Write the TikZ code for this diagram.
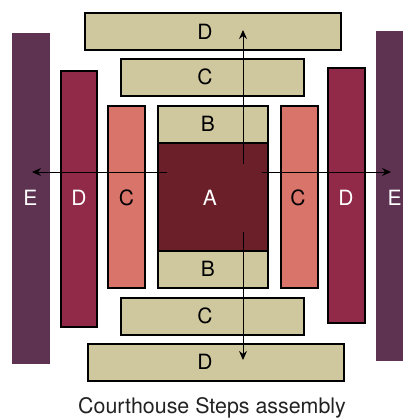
\documentclass[tikz,border=0pt]{standalone}
\usepackage{fontspec}
\setmainfont{TeX Gyre Heros}
\usetikzlibrary{arrows.meta}
\definecolor{tan}{RGB}{207,199,158}
\definecolor{colA}{RGB}{106,31,41}
\definecolor{colC}{RGB}{216,116,106}
\definecolor{colD}{RGB}{145,42,72}
\definecolor{colE}{RGB}{94,51,82}
\definecolor{captxt}{RGB}{34,34,34}
\tikzset{
  blk/.style={draw=black, line width=1.6pt},
  tanblk/.style={blk, fill=tan},
  ablk/.style={blk, fill=colA},
  cblk/.style={blk, fill=colC},
  dblk/.style={blk, fill=colD},
  eblk/.style={draw=colE, line width=1pt, fill=colE},
  arr/.style={line width=0.9pt, -{Stealth[length=9pt,width=8pt]}},
  lbl/.style={font=\fontsize{21}{21}\selectfont, inner sep=0pt, anchor=base},
  wlbl/.style={lbl, text=white},
}
\newcommand{\blkat}[6]{% style, name, x1, y1, x2, y2
  \path[#1] (#3,#4) rectangle (#5,#6);
  \coordinate (#2) at ({(#3+#5)/2},{(#4+#6)/2});
}
\begin{document}
\begin{tikzpicture}[x=1pt,y=-1pt]
\useasboundingbox (0,0) rectangle (403,418);
\clip (0,0) rectangle (403,418);
% vertical bars
\blkat{eblk}{lE}{12}{33}{49}{363}
\blkat{dblk}{lD}{61}{71}{97}{327}
\blkat{cblk}{lC}{108}{106}{145}{288}
\blkat{cblk}{rC}{281}{106}{318}{288}
\blkat{dblk}{rD}{328}{68}{365}{323}
\blkat{eblk}{rE}{376}{31}{413}{360}
% horizontal bars
\blkat{tanblk}{tD}{85}{13}{341}{50}
\blkat{tanblk}{tC}{121}{59}{304}{96}
\blkat{tanblk}{tB}{158}{106}{268}{143}
\blkat{tanblk}{bB}{158}{251}{268}{288}
\blkat{tanblk}{bC}{121}{298}{304}{335}
\blkat{tanblk}{bD}{88}{344}{344}{381}
\blkat{ablk}{cA}{158}{143}{268}{251}
% labels (base line positions)
\node[wlbl] (labE1) at (30.5,205) {E};
\node[wlbl] (labD1) at (79,205) {D};
\node[lbl] (labC1) at (126.5,205) {C};
\node[wlbl] (labA) at (210,205) {A};
\node[lbl] (labC2) at (298,205) {C};
\node[wlbl] (labD2) at (346,205) {D};
\node[wlbl] (labE2) at (394.5,205) {E};
\node[lbl] (labD3) at (205,39) {D};
\node[lbl] (labC3) at (205,84.5) {C};
\node[lbl] (labB1) at (208,131) {B};
\node[lbl] (labB2) at (208,276) {B};
\node[lbl] (labC4) at (205,323.5) {C};
\node[lbl] (labD4) at (205,369) {D};
% arrows
\coordinate (uS) at (243,164); \coordinate (uE) at (243,30);
\coordinate (dS) at (243,232); \coordinate (dE) at (243,360);
\coordinate (lS) at (167,172); \coordinate (lE2) at (32,172);
\coordinate (rS) at (262,172); \coordinate (rE2) at (391,172);
\draw[arr] (uS) -- (uE);
\draw[arr] (dS) -- (dE);
\draw[arr] (lS) -- (lE2);
\draw[arr] (rS) -- (rE2);
% caption
\node[font=\fontsize{21.4}{21.4}\selectfont, text=captxt, inner sep=0pt, anchor=base] (cap) at (212,413.5) {Courthouse Steps assembly};
\end{tikzpicture}
\end{document}
